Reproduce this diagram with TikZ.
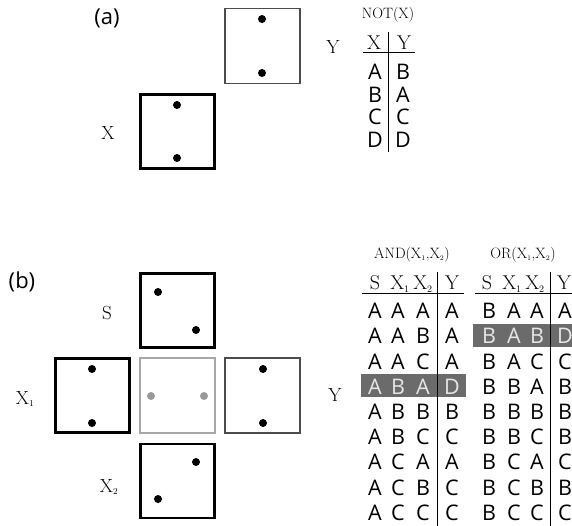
\documentclass[tikz,border=0pt]{standalone}
\usepackage{fontspec}
\setsansfont{Open Sans}
\usepackage{tikz}
\usepackage{xcolor}

\begin{document}
\begin{tikzpicture}[x=1pt,y=-1pt,
  cell/.style={draw,line width=2.6pt,minimum size=74pt,inner sep=0pt},
  thincell/.style={draw=black!70,line width=1.2pt,minimum size=75pt,inner sep=0pt},
  ghostcell/.style={draw=black!35,line width=1.3pt,minimum size=75pt,inner sep=0pt},
  lbl/.style={inner sep=0pt,font=\fontsize{19}{21}\selectfont},
  hdr/.style={inner sep=0pt,font=\fontsize{20}{22}\selectfont},
  fn/.style={inner sep=0pt,font=\fontsize{15}{17}\selectfont},
  ent/.style={inner sep=0pt,font=\sffamily\fontsize{21.5}{24}\selectfont},
  panel/.style={inner sep=0pt,font=\sffamily\fontsize{22}{24}\selectfont},
  dot/.style={circle,fill=black,inner sep=0pt,minimum size=8pt}]
\definecolor{hlbar}{HTML}{6B6B6B}
\definecolor{hltext}{HTML}{E6E6E6}
\definecolor{ghost}{HTML}{999999}
\useasboundingbox (0,0) rectangle (572,526);

% (a) NOT
\node[panel] (pa) at (107,18) {(a)};
\node[thincell] (ay) at (262.5,46) {};
\node[cell] (ax) at (177.5,131.5) {};
\node[dot] (ay1) at (262,19) {};
\node[dot] (ay2) at (262,73) {};
\node[dot] (ax1) at (177,105) {};
\node[dot] (ax2) at (177,158) {};
\node[lbl] (lax) at (108,133) {X};
\node[lbl] (lay) at (333,47) {Y};

\node[fn] (tnot) at (388,15) {NOT(X)};
\node[hdr] (nx) at (374,43) {X};
\node[hdr] (ny) at (404,43) {Y};
\coordinate (nl1) at (363,52);
\coordinate (nl2) at (415,52);
\coordinate (nv1) at (388,32);
\coordinate (nv2) at (388,152);
\draw[line width=0.8pt] (nl1) -- (nl2);
\draw[line width=0.8pt] (nv1) -- (nv2);
\foreach \r/\x/\y in {0/A/B,1/B/A,2/C/C,3/D/D}
  {\node[ent] (nx\r) at (375,72+22.6*\r) {\x};
   \node[ent] (ny\r) at (403,72+22.6*\r) {\y};}

% (b) AND / OR
\node[panel] (pb) at (22,282) {(b)};
\node[cell] (bs) at (177.5,310.5) {};
\node[cell] (bx1) at (92.5,395.5) {};
\node[ghostcell] (bm) at (177.5,395.5) {};
\node[thincell] (by) at (262.5,395.5) {};
\node[cell] (bx2) at (177.5,481) {};
\node[dot] (bs1) at (158,292) {};
\node[dot] (bs2) at (196,330) {};
\node[dot] (bxa1) at (92,369) {};
\node[dot] (bxa2) at (92,423) {};
\node[dot,fill=ghost] (bm1) at (151,396) {};
\node[dot,fill=ghost] (bm2) at (204,396) {};
\node[dot] (by1) at (263,369) {};
\node[dot] (by2) at (263,423) {};
\node[dot] (bxb1) at (196,462) {};
\node[dot] (bxb2) at (158,499) {};
\node[lbl] (lbs) at (107,313) {S};
\node[lbl] (lbx1) at (25,399) {X$_{\scriptscriptstyle 1}$};
\node[lbl] (lbx2) at (109,487) {X$_{\scriptscriptstyle 2}$};
\node[lbl] (lby) at (335,395) {Y};

% highlighted rows
\node[fill=hlbar,inner sep=0pt,minimum width=105pt,minimum height=23pt] (hand) at (413,385.5) {};
\node[fill=hlbar,inner sep=0pt,minimum width=100pt,minimum height=23pt] (hor) at (523,335.5) {};

\node[fn] (tand) at (412,255) {AND(X$_{\scriptscriptstyle 1}$,X$_{\scriptscriptstyle 2}$)};
\node[fn] (tor) at (523,255) {OR(X$_{\scriptscriptstyle 1}$,X$_{\scriptscriptstyle 2}$)};
\foreach \t/\c in {a/375,o/487}
  {\node[hdr] (\t s) at (\c,283) {S};
   \node[hdr] (\t x1) at (\c+25,284) {X$_{\scriptscriptstyle 1}$};
   \node[hdr] (\t x2) at (\c+48,284) {X$_{\scriptscriptstyle 2}$};
   \node[hdr] (\t y) at (\c+77,283) {Y};}
\coordinate (al1) at (362,293);
\coordinate (al2) at (464,293);
\coordinate (av1) at (437,272);
\coordinate (av2) at (437,526);
\coordinate (ol1) at (475,293);
\coordinate (ol2) at (572,293);
\coordinate (ov1) at (550,272);
\coordinate (ov2) at (550,526);
\draw[line width=0.8pt] (al1) -- (al2);
\draw[line width=0.8pt] (av1) -- (av2);
\draw[line width=0.8pt] (ol1) -- (ol2);
\draw[line width=0.8pt] (ov1) -- (ov2);

\foreach \r/\s/\a/\b/\y/\c in {0/A/A/A/A/black,1/A/A/B/A/black,2/A/A/C/A/black,
    3/A/B/A/D/hltext,4/A/B/B/B/black,5/A/B/C/C/black,6/A/C/A/A/black,
    7/A/C/B/C/black,8/A/C/C/C/black}
  {\node[ent,text=\c] (as\r) at (375,311+25.2*\r) {\s};
   \node[ent,text=\c] (aa\r) at (398,311+25.2*\r) {\a};
   \node[ent,text=\c] (ab\r) at (423,311+25.2*\r) {\b};
   \node[ent,text=\c] (ay\r) at (452,311+25.2*\r) {\y};}
\foreach \r/\s/\a/\b/\y/\c in {0/B/A/A/A/black,1/B/A/B/D/hltext,2/B/A/C/C/black,
    3/B/B/A/B/black,4/B/B/B/B/black,5/B/B/C/B/black,6/B/C/A/C/black,
    7/B/C/B/B/black,8/B/C/C/C/black}
  {\node[ent,text=\c] (os\r) at (489,311+25.2*\r) {\s};
   \node[ent,text=\c] (oa\r) at (514,311+25.2*\r) {\a};
   \node[ent,text=\c] (ob\r) at (537,311+25.2*\r) {\b};
   \node[ent,text=\c] (oy\r) at (565,311+25.2*\r) {\y};}
\end{tikzpicture}
\end{document}
